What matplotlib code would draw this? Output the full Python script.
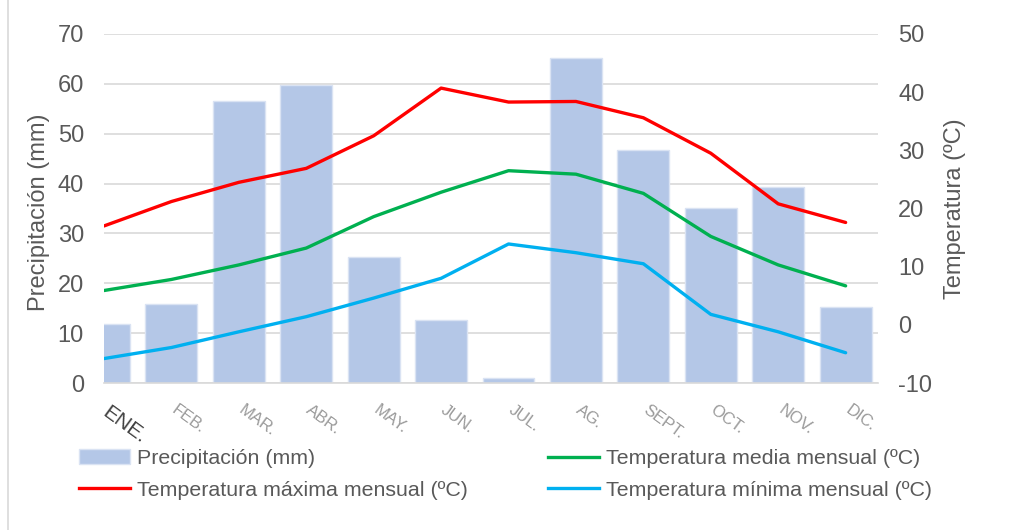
import numpy as np
import matplotlib
matplotlib.use("Agg")
from matplotlib import pyplot as plt
from matplotlib.lines import Line2D
import matplotlib.transforms as mtransforms

plt.rcParams['font.family'] = ['Liberation Sans', 'DejaVu Sans']
plt.rcParams['axes.unicode_minus'] = False

meses = ["ENE.", "FEB.", "MAR.", "ABR.", "MAY.", "JUN.", "JUL.", "AG.",
         "SEPT.", "OCT.", "NOV.", "DIC."]
precip = [11.8, 15.8, 56.6, 59.8, 25.3, 12.7, 1.1, 65.1, 46.7, 35.2, 39.4, 15.2]
t_max = [17.0, 21.2, 24.5, 26.9, 32.5, 40.7, 38.3, 38.4, 35.6, 29.5, 20.8, 17.6]
t_med = [5.9, 7.8, 10.3, 13.2, 18.6, 22.8, 26.5, 25.9, 22.6, 15.2, 10.3, 6.7]
t_min = [-5.8, -3.9, -1.2, 1.4, 4.6, 8.0, 13.9, 12.4, 10.5, 1.8, -1.2, -4.8]

gris = '#595959'
W, H = 1009, 530
fig = plt.figure(figsize=(W / 100, H / 100), dpi=100)
ax = fig.add_axes([104 / W, 1 - 383 / H, (878 - 104) / W, (383 - 34) / H])
ax2 = ax.twinx()

x = np.arange(len(meses))
ax.bar(x, precip, width=0.77, color='#b4c7e7', edgecolor='#dae3f3',
       linewidth=1, zorder=2)
ax.set_ylim(0, 70)
ax.set_yticks(range(0, 71, 10))
ax.set_xlim(0.01, 11.48)
ax.grid(axis='y', color='#d9d9d9', linewidth=1.2, zorder=0)
ax.set_axisbelow(True)

ax2.plot(x, t_max, color='#ff0000', lw=2.4, solid_capstyle='round')
ax2.plot(x, t_med, color='#00b050', lw=2.4, solid_capstyle='round')
ax2.plot(x, t_min, color='#00b0f0', lw=2.4, solid_capstyle='round')
ax2.set_ylim(-10, 50)
ax2.set_yticks(range(-10, 51, 10))

for a in (ax, ax2):
    for s in a.spines.values():
        s.set_visible(False)
    a.tick_params(length=0, labelsize=17, labelcolor=gris)
ax.spines['bottom'].set_visible(True)
ax.spines['bottom'].set_color('#d9d9d9')
ax.spines['bottom'].set_linewidth(1.2)
ax.tick_params(axis='y', pad=14.5)
ax2.tick_params(axis='y', pad=14.5)

ax.set_xticks(x)
ax.set_xticklabels(meses)
ax.tick_params(axis='x', pad=14)
shift = mtransforms.ScaledTranslation(6 / 100, 0, fig.dpi_scale_trans)
for i, lab in enumerate(ax.get_xticklabels()):
    lab.set_rotation(-36)
    lab.set_rotation_mode('anchor')
    lab.set_ha('left')
    lab.set_va('top')
    lab.set_transform(lab.get_transform() + shift)
    if i == 0:
        lab.set_fontsize(15)
        lab.set_color('#404040')
    else:
        lab.set_fontsize(12)
        lab.set_color('#9a9a9a')

ax.set_ylabel('Precipitación (mm)', fontsize=17, color=gris)
ax2.set_ylabel('Temperatura (ºC)', fontsize=17, color=gris)
ax.yaxis.set_label_coords((50 - 104) / 774, 0.49)
ax2.yaxis.set_label_coords((944 - 104) / 774, 0.5)

handles = [
    plt.Rectangle((0, 0), 1, 1, facecolor='#b4c7e7', edgecolor='#dae3f3'),
    Line2D([], [], color='#ff0000', lw=2.4),
    Line2D([], [], color='#00b050', lw=2.4),
    Line2D([], [], color='#00b0f0', lw=2.4),
]
labels = ['Precipitación (mm)', 'Temperatura máxima mensual (ºC)',
          'Temperatura media mensual (ºC)', 'Temperatura mínima mensual (ºC)']
fig.legend(handles, labels, ncol=2, loc='upper left',
           bbox_to_anchor=(79 / W, 1 - 449 / H), frameon=False,
           fontsize=15.4, labelcolor=gris, handlelength=2.4, handleheight=0.7,
           handletextpad=0.3, columnspacing=3.75, labelspacing=0.6,
           borderpad=0, borderaxespad=0)

fig.add_artist(Line2D([8 / W, 8 / W], [0, 1], color='#d9d9d9', lw=1.2))

fig.savefig('out.png', dpi=100)
